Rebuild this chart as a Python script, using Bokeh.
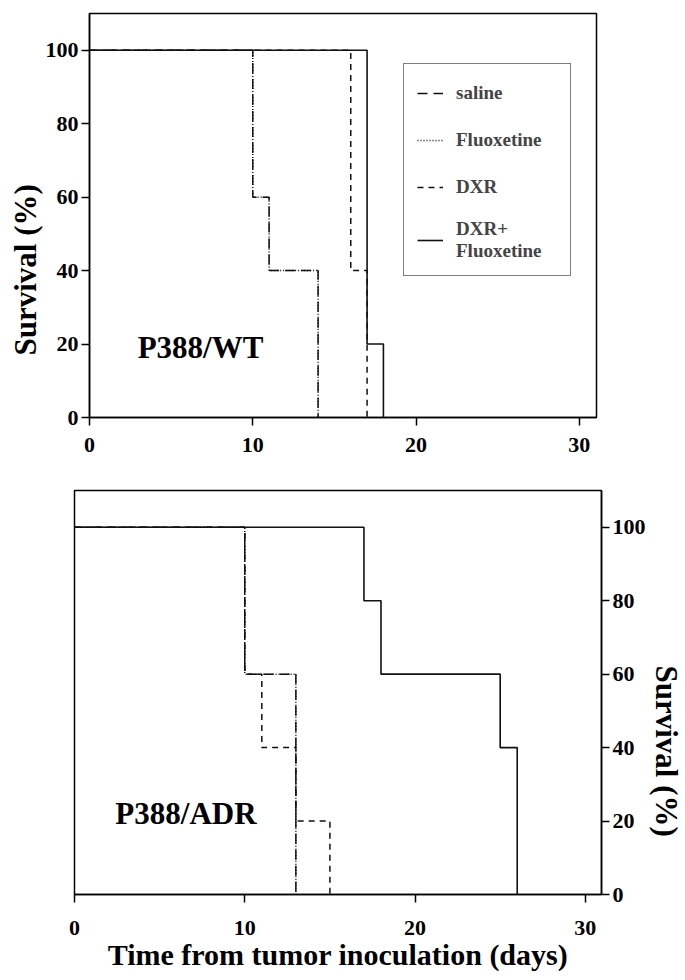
from bokeh.plotting import figure
from bokeh.layouts import column
from bokeh.models import Range1d, Legend, LegendItem, Label, FixedTicker, Title
from bokeh.embed import file_html
from bokeh.resources import INLINE

# ---------------- data ----------------
x_ticks = [0, 10, 20, 30]
y_ticks = [0, 20, 40, 60, 80, 100]

series_names = ["saline", "Fluoxetine", "DXR", "DXR+\nFluoxetine"]

# P388/WT  (time in days, survival in %)
wt_saline_t = [0, 10, 11, 14]
wt_saline_s = [100, 60, 40, 0]
wt_fluox_t = [0, 10, 11, 14]
wt_fluox_s = [100, 60, 40, 0]
wt_dxr_t = [0, 16, 17]
wt_dxr_s = [100, 40, 0]
wt_combo_t = [0, 17, 18]
wt_combo_s = [100, 20, 0]

# P388/ADR
adr_saline_t = [0, 10, 13]
adr_saline_s = [100, 60, 0]
adr_fluox_t = [0, 10, 13]
adr_fluox_s = [100, 60, 0]
adr_dxr_t = [0, 10, 11, 13, 15]
adr_dxr_s = [100, 60, 40, 20, 0]
adr_combo_t = [0, 17, 18, 25, 26]
adr_combo_s = [100, 80, 60, 40, 0]

FONT = "Liberation Serif"
INK = "#111111"
styles = [
    dict(line_dash="10 6", line_width=1.5),   # saline
    dict(line_dash="1 2", line_width=1.5),    # Fluoxetine
    dict(line_dash="6 5", line_width=1.5),    # DXR
    dict(line_dash="solid", line_width=1.6),  # DXR+Fluoxetine
]


def style_axes(p):
    p.outline_line_color = "black"
    p.outline_line_width = 1.5
    p.xgrid.visible = False
    p.ygrid.visible = False
    for ax in (p.xaxis + p.yaxis):
        ax.axis_line_color = "black"
        ax.axis_line_width = 1.5
        ax.major_tick_line_color = "black"
        ax.major_tick_line_width = 1.5
        ax.major_tick_in = 0
        ax.major_tick_out = 8
        ax.minor_tick_line_color = None
        ax.major_label_text_font = FONT
        ax.major_label_text_font_style = "bold"
        ax.major_label_text_font_size = "22px"
        ax.major_label_text_color = "black"
    p.xaxis.ticker = FixedTicker(ticks=x_ticks)
    p.yaxis.ticker = FixedTicker(ticks=y_ticks)


def side_title(text, offset):
    return Title(text=text, align="left", offset=offset, standoff=0,
                 text_font=FONT, text_font_style="bold", text_font_size="31px",
                 text_color="black")


# ---------------- top panel ----------------
p1 = figure(width=685, height=465, output_backend="svg", toolbar_location=None,
            x_range=Range1d(0, 31.05), y_range=Range1d(0, 110),
            min_border_left=89, min_border_right=89, min_border_top=13,
            min_border_bottom=48, background_fill_color="white",
            border_fill_color="white", frame_align=False)
style_axes(p1)
p1.xaxis.major_label_standoff = 12
p1.yaxis.major_label_standoff = 3

wt_data = [(wt_saline_t, wt_saline_s), (wt_fluox_t, wt_fluox_s),
           (wt_dxr_t, wt_dxr_s), (wt_combo_t, wt_combo_s)]
renderers = []
for (t, s), st in zip(wt_data, styles):
    r = p1.step(t, s, mode="after", line_color=INK, **st)
    renderers.append(r)

legend = Legend(items=[LegendItem(label=n, renderers=[r]) for n, r in zip(series_names, renderers)],
                location=(314, 141), padding=13, spacing=15, margin=0,
                glyph_width=26, glyph_height=32, label_height=32, label_width=101,
                label_standoff=13, label_text_font=FONT, label_text_font_style="bold",
                label_text_font_size="19px",
                border_line_color="black", border_line_width=1.5,
                background_fill_color="white", background_fill_alpha=1.0)
p1.add_layout(legend)

p1.add_layout(Label(x=2.95, y=19, text="P388/WT", text_font=FONT, text_font_style="bold",
                    text_font_size="31px", text_align="left", text_baseline="alphabetic",
                    text_color="black"))
p1.add_layout(side_title("Survival (%)", 62), "left")

# ---------------- bottom panel ----------------
p2 = figure(width=685, height=515, output_backend="svg", toolbar_location=None,
            x_range=Range1d(0, 30.95), y_range=Range1d(0, 110), y_axis_location="right",
            min_border_left=74, min_border_right=80, min_border_top=25,
            min_border_bottom=86, background_fill_color="white",
            border_fill_color="white", frame_align=False)
style_axes(p2)
p2.xaxis.major_label_standoff = 18
p2.yaxis.major_label_standoff = 3
p2.xaxis.axis_label = "Time from tumor inoculation (days)"
p2.xaxis.axis_label_text_font = FONT
p2.xaxis.axis_label_text_font_style = "bold"
p2.xaxis.axis_label_text_font_size = "30px"
p2.xaxis.axis_label_text_color = "black"
p2.xaxis.axis_label_standoff = 0

adr_data = [(adr_saline_t, adr_saline_s), (adr_fluox_t, adr_fluox_s),
            (adr_dxr_t, adr_dxr_s), (adr_combo_t, adr_combo_s)]
for (t, s), st in zip(adr_data, styles):
    p2.step(t, s, mode="after", line_color=INK, **st)

p2.add_layout(Label(x=2.4, y=22, text="P388/ADR", text_font=FONT, text_font_style="bold",
                    text_font_size="31px", text_align="left", text_baseline="alphabetic",
                    text_color="black"))
p2.add_layout(side_title("Survival (%)", 175), "right")

layout = column(p1, p2)
open("out.html", "w").write(file_html(layout, INLINE))
